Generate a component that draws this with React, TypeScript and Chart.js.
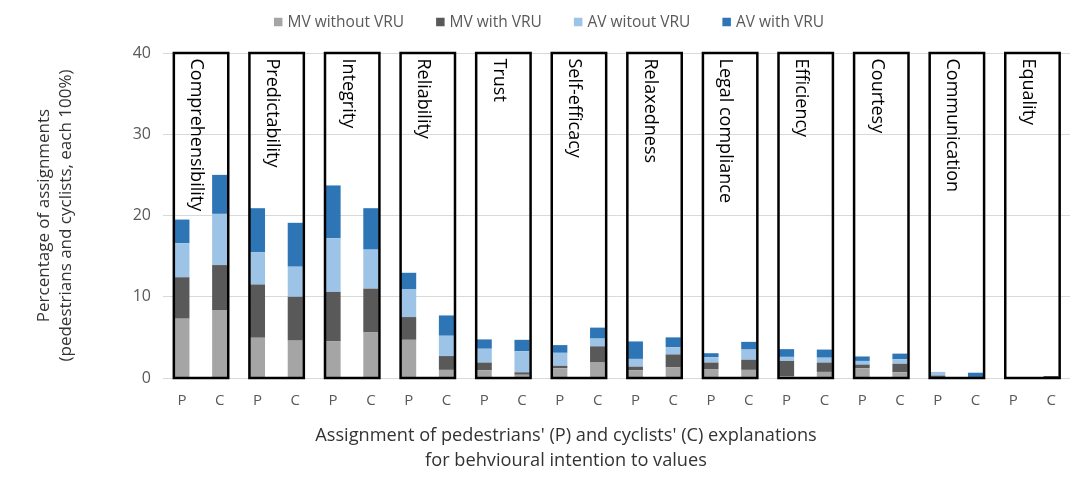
import { useEffect, useRef } from "react";
import { Chart, registerables } from "chart.js";

Chart.register(...registerables);

// values shown in the boxes, each with a P (pedestrians) and C (cyclists) bar
const values = [
  "Comprehensibility",
  "Predictability",
  "Integrity",
  "Reliability",
  "Trust",
  "Self-efficacy",
  "Relaxedness",
  "Legal compliance",
  "Efficiency",
  "Courtesy",
  "Communication",
  "Equality"
];
const labels = values.flatMap(() => ["P", "C"]);

// stacked segments (percent), order P, C per value
const mvWithout = [7.3, 8.3, 4.95, 4.6, 4.5, 5.6, 4.7, 1.0, 0.95, 0.4, 1.2, 1.9, 0.95, 1.3, 1.1, 1.0, 0.2, 0.75, 1.2, 0.7, 0.05, 0, 0, 0];
const mvWith = [5.1, 5.6, 6.55, 5.4, 6.1, 5.4, 2.8, 1.7, 0.95, 0.3, 0.3, 2.0, 0.45, 1.6, 0.8, 1.25, 1.9, 1.15, 0.45, 1.05, 0.25, 0.1, 0, 0.25];
const avWithout = [4.2, 6.3, 4.0, 3.7, 6.6, 4.8, 3.4, 2.5, 1.7, 2.6, 1.6, 0.95, 0.95, 0.9, 0.65, 1.25, 0.5, 0.6, 0.45, 0.55, 0.45, 0, 0, 0];
const avWith = [2.9, 4.8, 5.4, 5.4, 6.5, 5.1, 2.05, 2.5, 1.15, 1.4, 0.95, 1.35, 2.15, 1.2, 0.5, 0.95, 0.95, 1.0, 0.55, 0.7, 0, 0.55, 0, 0];

const yTicks = [0, 10, 20, 30, 40];

const FONT = "'Open Sans', sans-serif";

// draws the black frame round each P/C pair and the rotated value name
const valueBoxes = {
  id: "valueBoxes",
  afterDatasetsDraw(chart: Chart) {
    const ctx = chart.ctx;
    const meta = chart.getDatasetMeta(0);
    const y = chart.scales.y;
    const top = y.getPixelForValue(40);
    const bottom = y.getPixelForValue(0);
    ctx.save();
    values.forEach((name, i) => {
      const p = meta.data[2 * i] as any;
      const c = meta.data[2 * i + 1] as any;
      const left = p.x - p.width / 2 - 0.5;
      const right = c.x + c.width / 2 + 1;
      ctx.strokeStyle = "#000";
      ctx.lineWidth = 2.5;
      ctx.strokeRect(left, top, right - left, bottom - top);

      ctx.save();
      ctx.translate(p.x + 9.5, top + 5.5);
      ctx.rotate(Math.PI / 2);
      ctx.fillStyle = "#000";
      ctx.font = `18px ${FONT}`;
      ctx.textAlign = "left";
      ctx.textBaseline = "alphabetic";
      ctx.fillText(name, 0, 0);
      ctx.restore();
    });
    ctx.restore();
  }
};

// legend row at the top, spaced like the source figure
const topLegend = {
  id: "topLegend",
  afterDraw(chart: Chart) {
    const ctx = chart.ctx;
    const sets = chart.data.datasets;
    const box = 8.5;
    const gapText = 5;
    const gapItem = 32;
    ctx.save();
    ctx.font = `15.5px ${FONT}`;
    const widths = sets.map((d) => ctx.measureText(String(d.label)).width);
    const total =
      widths.reduce((s, w) => s + box + gapText + w, 0) + gapItem * (sets.length - 1);
    let x = 549 - total / 2;
    const yc = 22;
    ctx.textBaseline = "middle";
    ctx.textAlign = "left";
    sets.forEach((d, i) => {
      ctx.fillStyle = d.backgroundColor as string;
      ctx.fillRect(x, yc - box / 2, box, box);
      ctx.fillStyle = "#595959";
      ctx.fillText(String(d.label), x + box + gapText, yc + 1);
      x += box + gapText + widths[i] + gapItem;
    });
    ctx.restore();
  }
};

// x axis title, centred a bit left of the plot like in the source figure
const xTitle = {
  id: "xTitle",
  afterDraw(chart: Chart) {
    const ctx = chart.ctx;
    ctx.save();
    ctx.fillStyle = "#333";
    ctx.font = `18.2px ${FONT}`;
    ctx.textAlign = "center";
    ctx.textBaseline = "middle";
    ctx.fillText("Assignment of pedestrians' (P) and cyclists' (C) explanations", 566, 436);
    ctx.fillText("for behvioural intention to values", 566, 461);
    ctx.restore();
  }
};

export default function App() {
  const chartRef = useRef<HTMLCanvasElement | null>(null);
  const chartInstance = useRef<Chart | null>(null);

  useEffect(() => {
    if (!chartRef.current) return;
    if (chartInstance.current) chartInstance.current.destroy();

    const bar = { barPercentage: 0.4, categoryPercentage: 1 };

    chartInstance.current = new Chart(chartRef.current, {
      type: "bar",
      data: {
        labels,
        datasets: [
          { label: "MV without VRU", data: mvWithout, backgroundColor: "#a5a5a5", ...bar },
          { label: "MV with VRU", data: mvWith, backgroundColor: "#595959", ...bar },
          { label: "AV witout VRU", data: avWithout, backgroundColor: "#9dc3e6", ...bar },
          { label: "AV with VRU", data: avWith, backgroundColor: "#2e75b6", ...bar }
        ]
      },
      options: {
        animation: false,
        responsive: true,
        maintainAspectRatio: false,
        layout: { padding: { left: 0, right: 10, top: 53, bottom: 0 } },
        plugins: {
          legend: { display: false },
          tooltip: { enabled: false }
        },
        scales: {
          x: {
            stacked: true,
            grid: { display: false, drawTicks: false },
            border: { display: false },
            ticks: {
              color: "#595959",
              padding: 14,
              font: { family: FONT, size: 15 }
            },
            afterFit: (scale: any) => {
              scale.height = 118;
            }
          },
          y: {
            stacked: true,
            min: 0,
            max: 40,
            afterBuildTicks: (scale: any) => {
              scale.ticks = yTicks.map((v) => ({ value: v }));
            },
            grid: { color: "#d9d9d9", drawTicks: false },
            border: { display: false },
            ticks: {
              color: "#595959",
              padding: 12,
              font: { family: FONT, size: 16 }
            },
            title: {
              display: true,
              text: ["Percentage of assignments", "(pedestrians and cyclists, each 100%)"],
              color: "#333",
              padding: { top: 33, bottom: 0 },
              font: { family: FONT, size: 17, lineHeight: 1.3 }
            },
            afterFit: (scale: any) => {
              scale.width = 163;
            }
          }
        }
      },
      plugins: [valueBoxes, topLegend, xTitle]
    });

    return () => {
      if (chartInstance.current) {
        chartInstance.current.destroy();
        chartInstance.current = null;
      }
    };
  }, []);

  return (
    <div style={{ position: "absolute", left: 0, top: 0, width: 1080, height: 496 }}>
      <canvas ref={chartRef} />
    </div>
  );
}
